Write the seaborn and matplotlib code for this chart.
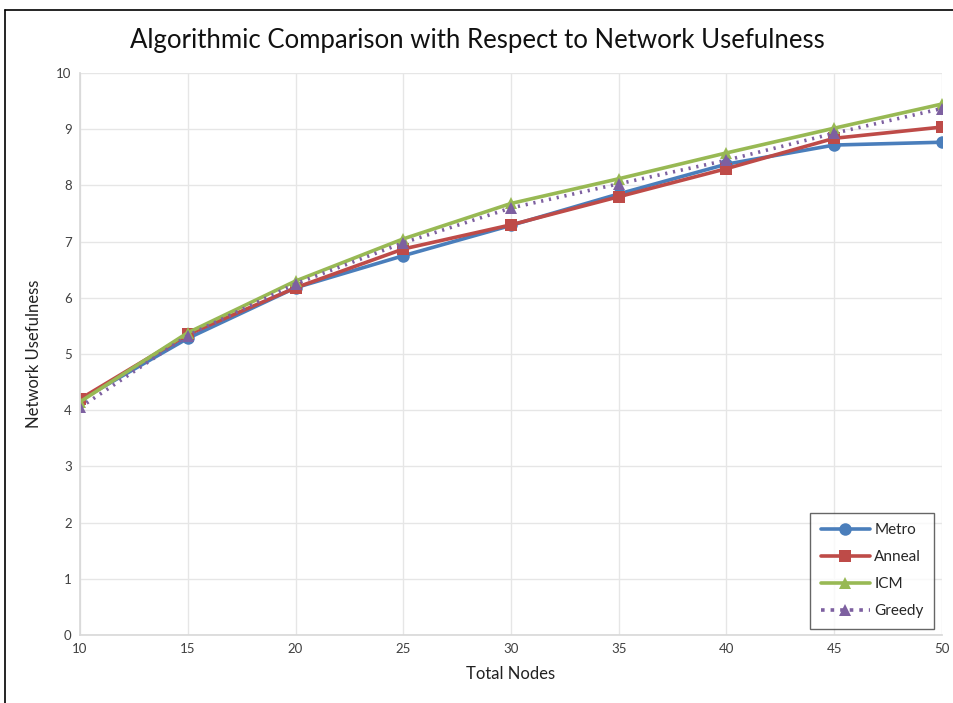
import matplotlib
matplotlib.use("Agg")
import matplotlib.pyplot as plt
import seaborn as sns
import pandas as pd
from matplotlib.lines import Line2D

sns.set_theme(style="white")
plt.rcParams['font.family'] = ['Lato', 'DejaVu Sans']

nodes = [10, 15, 20, 25, 30, 35, 40, 45, 50]
metro = [4.18, 5.28, 6.18, 6.75, 7.29, 7.85, 8.38, 8.72, 8.77]
anneal = [4.20, 5.35, 6.18, 6.87, 7.30, 7.80, 8.30, 8.84, 9.04]
icm = [4.15, 5.38, 6.30, 7.05, 7.68, 8.12, 8.58, 9.02, 9.45]
greedy = [4.05, 5.33, 6.25, 6.98, 7.60, 8.03, 8.45, 8.93, 9.37]
series_names = ["Metro", "Anneal", "ICM", "Greedy"]
x_ticks = [10, 15, 20, 25, 30, 35, 40, 45, 50]
y_ticks = [0, 1, 2, 3, 4, 5, 6, 7, 8, 9, 10]

colors = {"Metro": "#4A7EBB", "Anneal": "#BE4B48", "ICM": "#98B954", "Greedy": "#7D60A0"}
markers = {"Metro": "o", "Anneal": "s", "ICM": "^", "Greedy": "^"}
dashes = {"Metro": "", "Anneal": "", "ICM": "", "Greedy": (0.6, 1.6)}

frames = []
for name, vals in zip(series_names, [metro, anneal, icm, greedy]):
    frames.append(pd.DataFrame({"Total Nodes": nodes, "Network Usefulness": vals, "Series": name}))
df = pd.concat(frames, ignore_index=True)

fig = plt.figure(figsize=(9.54, 7.03), dpi=100)
ax = fig.add_axes([0.0839, 0.0967, 0.9035, 0.7993])

sns.lineplot(data=df, x="Total Nodes", y="Network Usefulness", hue="Series", style="Series",
             palette=colors, markers=markers, dashes=dashes, hue_order=series_names,
             style_order=series_names, linewidth=2.6, markersize=9, markeredgewidth=0,
             ax=ax, legend=False)

ax.set_xlim(10, 50)
ax.set_ylim(0, 10)
ax.set_xticks(x_ticks)
ax.set_yticks(y_ticks)
ax.grid(True, color="#E6E6E6", linewidth=1)
for s in ["top", "right"]:
    ax.spines[s].set_visible(False)
for s in ["left", "bottom"]:
    ax.spines[s].set_color("#D9D9D9")
ax.tick_params(axis="both", labelsize=9.5, colors="#404040", length=0, pad=6)
ax.set_xlabel("Total Nodes", fontsize=12, color="#222222", labelpad=8)
ax.set_ylabel("Network Usefulness", fontsize=12, color="#222222", labelpad=10)
fig.text(0.5, 0.943, "Algorithmic Comparison with Respect to Network Usefulness",
         ha="center", va="center", fontsize=18.5, color="#111111")

handles = []
for name in series_names:
    ls = ":" if name == "Greedy" else "-"
    handles.append(Line2D([], [], color=colors[name], marker=markers[name], linestyle=ls,
                          linewidth=2.6, markersize=9, markeredgewidth=0))
leg = ax.legend(handles, series_names, loc="lower right", bbox_to_anchor=(1.0, -0.003),
                fontsize=11, frameon=True, fancybox=False, edgecolor="#404040",
                handlelength=3.2, borderpad=0.7, labelspacing=0.85, handletextpad=0.3)
leg.get_frame().set_linewidth(1.0)

# outer frame lines
fig.add_artist(Line2D([5/954, 5/954], [0, 1 - 10/703], color="black", linewidth=1.2, transform=fig.transFigure))
fig.add_artist(Line2D([5/954, 1], [1 - 10/703, 1 - 10/703], color="black", linewidth=1.2, transform=fig.transFigure))

fig.savefig("out.png", dpi=100)
